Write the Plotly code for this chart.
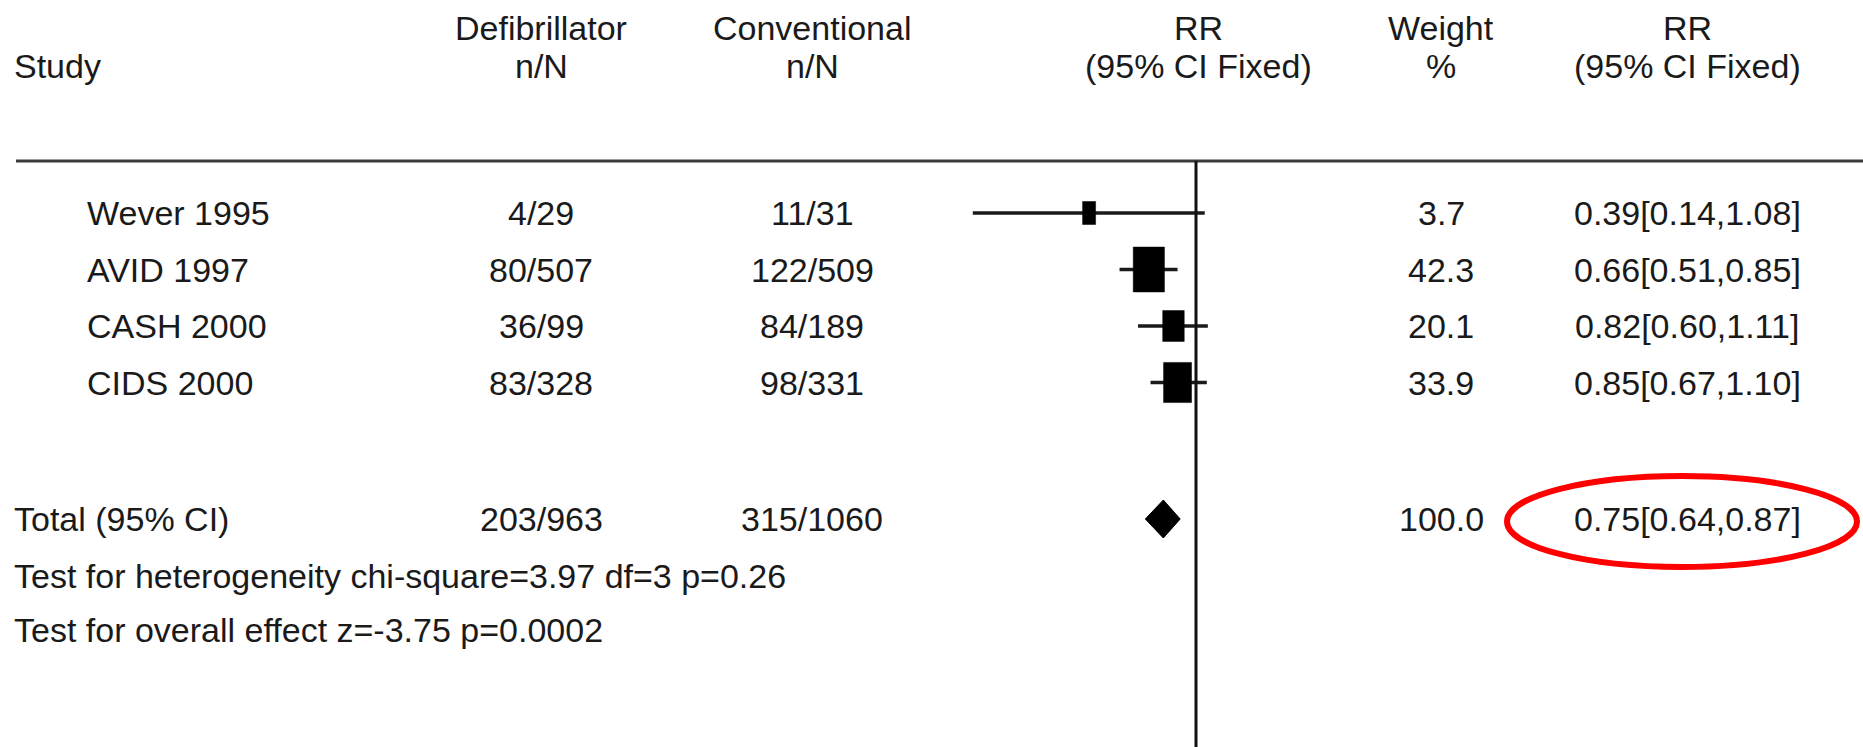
import math
import plotly.graph_objects as go

# ---------------- data ----------------
studies = ["Wever 1995", "AVID 1997", "CASH 2000", "CIDS 2000"]
defib_nN = ["4/29", "80/507", "36/99", "83/328"]
conv_nN = ["11/31", "122/509", "84/189", "98/331"]
rr = [0.39, 0.66, 0.82, 0.85]
rr_lo = [0.14, 0.51, 0.60, 0.67]
rr_hi = [1.08, 0.85, 1.11, 1.10]
weight = [3.7, 42.3, 20.1, 33.9]

total_label = "Total (95% CI)"
total_defib = "203/963"
total_conv = "315/1060"
total_rr = 0.75
total_lo = 0.64
total_hi = 0.87
total_weight = 100.0

heterogeneity_text = "Test for heterogeneity chi-square=3.97 df=3 p=0.26"
overall_text = "Test for overall effect z=-3.75 p=0.0002"

header_line1 = ["", "Defibrillator", "Conventional", "RR", "Weight", "RR"]
header_line2 = ["Study", "n/N", "n/N", "(95% CI Fixed)", "%", "(95% CI Fixed)"]

# ---------------- layout constants (pixels) ----------------
W, H = 1863, 747
FONT = dict(family="Liberation Sans, Arial, Helvetica, sans-serif", size=34, color="#1a1a1a")
HEAD1_Y, HEAD2_Y = 28, 66
RULE_Y = 161
ROW0_Y, ROW_STEP = 213, 56.5
TOTAL_Y, HET_Y, OVERALL_Y = 519, 576, 630
COL_STUDY_X = 85
COL_LEFT_X = 12
COL_DEFIB_X = 541
COL_CONV_X = 812
COL_RRHEAD_X = 1198
COL_WEIGHT_X = 1441
COL_RRTXT_X = 1687
FOREST_X0, FOREST_X1 = 930, 1260
LOG_PX_PER_DECADE = 261.4
NULL_X = 1196

def px(x):
    return x / W

rows_y = [ROW0_Y + i * ROW_STEP for i in range(len(studies))]

fig = go.Figure()

# confidence interval lines
for y, lo, hi in zip(rows_y, rr_lo, rr_hi):
    fig.add_trace(go.Scatter(x=[lo, hi], y=[y, y], mode="lines",
                             line=dict(color="#1a1a1a", width=3.5),
                             hoverinfo="skip", showlegend=False))

# weight boxes (size follows weight, with a minimum); pixel size -> log-axis extent
for y, r, w in zip(rows_y, rr, weight):
    bw = max(13, 4.8 * math.sqrt(w))
    bh = max(23, 6.9 * math.sqrt(w))
    k = 10 ** (bw / 2 / LOG_PX_PER_DECADE)
    xl, xr = r / k, r * k
    fig.add_trace(go.Scatter(
        x=[xl, xr, xr, xl, xl],
        y=[y - bh / 2, y - bh / 2, y + bh / 2, y + bh / 2, y - bh / 2],
        mode="lines", fill="toself", fillcolor="#000000",
        line=dict(color="#000000", width=0.5), hoverinfo="skip", showlegend=False))

# summary diamond
DIAMOND_HALF_H = 19
fig.add_trace(go.Scatter(
    x=[total_lo, total_rr, total_hi, total_rr, total_lo],
    y=[TOTAL_Y, TOTAL_Y - DIAMOND_HALF_H, TOTAL_Y, TOTAL_Y + DIAMOND_HALF_H, TOTAL_Y],
    mode="lines", fill="toself", fillcolor="#000000",
    line=dict(color="#000000", width=1), hoverinfo="skip", showlegend=False))

shapes = []
# horizontal rule under header
shapes.append(dict(type="line", xref="paper", yref="y", x0=px(16), x1=1,
                   y0=RULE_Y, y1=RULE_Y, line=dict(color="#3a3a3a", width=3)))
# line of no effect (RR = 1)
shapes.append(dict(type="line", xref="x", yref="y", x0=1, x1=1,
                   y0=RULE_Y, y1=H, line=dict(color="#111111", width=3)))
# red ellipse around pooled estimate
shapes.append(dict(type="circle", xref="paper", yref="y",
                   x0=px(1507), x1=px(1857), y0=476, y1=567,
                   line=dict(color="#ff0000", width=6)))

ann = []
def text(x, y, s, anchor="center"):
    ann.append(dict(x=px(x), y=y, xref="paper", yref="y", text=s,
                    showarrow=False, xanchor=anchor, yanchor="middle", font=FONT))

# headers
head_x = [COL_LEFT_X, COL_DEFIB_X, COL_CONV_X, COL_RRHEAD_X, COL_WEIGHT_X, COL_RRTXT_X]
head_anchor = ["left", "center", "center", "center", "center", "center"]
for hx, a, t1, t2 in zip(head_x, head_anchor, header_line1, header_line2):
    if t1:
        text(hx, HEAD1_Y, t1, a)
    text(hx, HEAD2_Y, t2, a)

# study rows
for y, s, d, c, r, lo, hi, w in zip(rows_y, studies, defib_nN, conv_nN, rr, rr_lo, rr_hi, weight):
    text(COL_STUDY_X, y, s, "left")
    text(COL_DEFIB_X, y, d)
    text(COL_CONV_X, y, c)
    text(COL_WEIGHT_X, y, f"{w:.1f}")
    text(COL_RRTXT_X, y, f"{r:.2f}[{lo:.2f},{hi:.2f}]")

# total row
text(COL_LEFT_X, TOTAL_Y, total_label, "left")
text(COL_DEFIB_X, TOTAL_Y, total_defib)
text(COL_CONV_X, TOTAL_Y, total_conv)
text(COL_WEIGHT_X, TOTAL_Y, f"{total_weight:.1f}")
text(COL_RRTXT_X, TOTAL_Y, f"{total_rr:.2f}[{total_lo:.2f},{total_hi:.2f}]")
text(COL_LEFT_X, HET_Y, heterogeneity_text, "left")
text(COL_LEFT_X, OVERALL_Y, overall_text, "left")

log_lo = (FOREST_X0 - NULL_X) / LOG_PX_PER_DECADE
log_hi = (FOREST_X1 - NULL_X) / LOG_PX_PER_DECADE

fig.update_layout(
    width=W, height=H,
    margin=dict(l=0, r=0, t=0, b=0, pad=0),
    paper_bgcolor="white", plot_bgcolor="white",
    showlegend=False,
    xaxis=dict(type="log", range=[log_lo, log_hi],
               domain=[px(FOREST_X0), px(FOREST_X1)], visible=False, fixedrange=True),
    yaxis=dict(range=[H, 0], domain=[0, 1], visible=False, fixedrange=True),
    shapes=shapes, annotations=ann,
)

fig.write_html("out.html", config={"displayModeBar": False})
